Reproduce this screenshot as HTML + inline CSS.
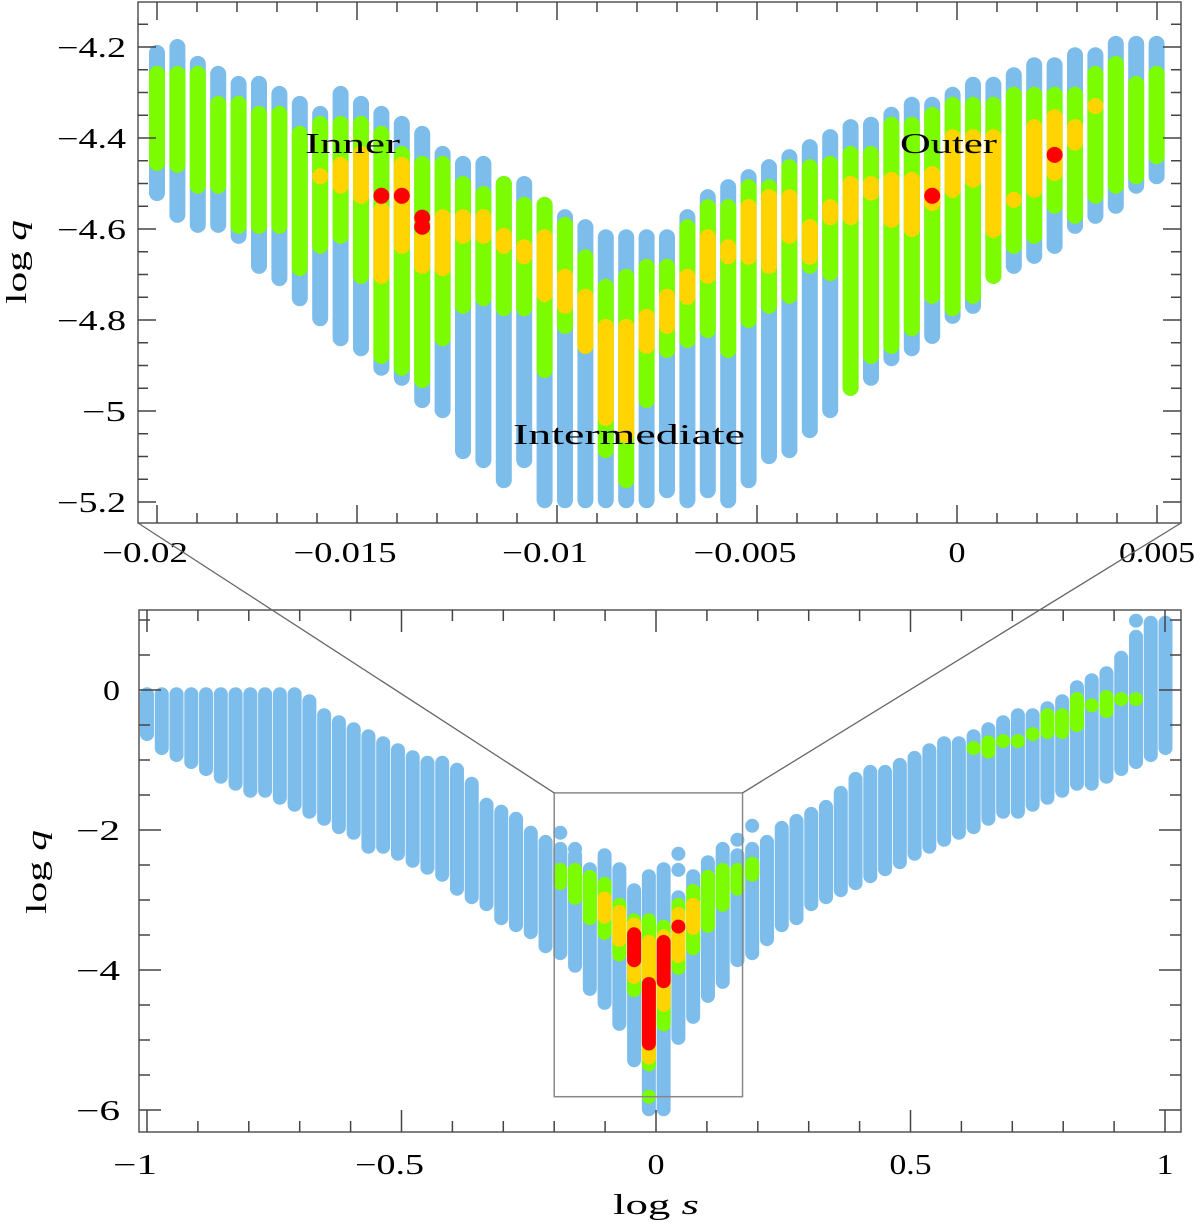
<!DOCTYPE html>
<html><head><meta charset="utf-8">
<style>
html,body{margin:0;padding:0;background:#fff;}
svg{display:block;}
text{font-family:"Liberation Serif",serif;fill:#000;}
</style></head>
<body>
<svg id="chart" width="1200" height="1225" viewBox="0 0 1200 1225" xmlns="http://www.w3.org/2000/svg">
<g id="top-dots"></g>
<g id="bot-dots"></g>
<g id="axes"></g>
<text x="305" y="153" font-size="28" textLength="95" lengthAdjust="spacingAndGlyphs">Inner</text>
<text x="900" y="153" font-size="28" textLength="97" lengthAdjust="spacingAndGlyphs">Outer</text>
<text x="513" y="444" font-size="28" textLength="232" lengthAdjust="spacingAndGlyphs">Intermediate</text>
<text transform="translate(26,262) rotate(-90)" text-anchor="middle" font-size="28" textLength="84" lengthAdjust="spacingAndGlyphs">log <tspan font-style="italic">q</tspan></text>
<text transform="translate(46,872) rotate(-90)" text-anchor="middle" font-size="28" textLength="84" lengthAdjust="spacingAndGlyphs">log <tspan font-style="italic">q</tspan></text>
<text x="656" y="1214" text-anchor="middle" font-size="28" textLength="86" lengthAdjust="spacingAndGlyphs">log <tspan font-style="italic">s</tspan></text>
</svg>
<script>
// ---------- top panel data ----------
const tS = [-0.02,-0.01949,-0.01898,-0.01847,-0.01796,-0.01745,-0.01694,-0.01643,-0.01592,-0.01541,-0.0149,-0.01439,-0.01388,-0.01337,-0.01286,-0.01235,-0.01184,-0.01133,-0.01082,-0.01031,-0.0098,-0.00929,-0.00878,-0.00827,-0.00776,-0.00725,-0.00674,-0.00623,-0.00572,-0.00521,-0.0047,-0.00419,-0.00368,-0.00317,-0.00266,-0.00215,-0.00164,-0.00113,-0.00062,-0.00011,0.0004,0.00091,0.00142,0.00193,0.00244,0.00295,0.00346,0.00397,0.00448,0.00499];
const tBlueTop = [-4.213,-4.200,-4.237,-4.259,-4.281,-4.281,-4.303,-4.325,-4.347,-4.303,-4.325,-4.347,-4.369,-4.391,-4.435,-4.457,-4.457,-4.501,-4.501,-4.547,-4.574,-4.596,-4.618,-4.618,-4.618,-4.618,-4.574,-4.530,-4.508,-4.486,-4.464,-4.442,-4.420,-4.398,-4.376,-4.371,-4.349,-4.327,-4.327,-4.305,-4.283,-4.283,-4.262,-4.240,-4.240,-4.218,-4.218,-4.193,-4.193,-4.193];
const tBlueBot = [-4.521,-4.569,-4.591,-4.591,-4.615,-4.681,-4.708,-4.752,-4.796,-4.840,-4.862,-4.905,-4.927,-4.976,-4.998,-5.088,-5.108,-5.152,-5.108,-5.196,-5.196,-5.196,-5.196,-5.196,-5.196,-5.174,-5.196,-5.174,-5.196,-5.152,-5.099,-5.086,-5.042,-4.998,-4.949,-4.927,-4.884,-4.862,-4.835,-4.791,-4.769,-4.703,-4.681,-4.659,-4.637,-4.593,-4.571,-4.549,-4.505,-4.484];
const tGreenTop = [-4.259,-4.259,-4.259,-4.325,-4.325,-4.347,-4.347,-4.391,-4.369,-4.369,-4.369,-4.391,-4.435,-4.457,-4.457,-4.501,-4.523,-4.501,-4.547,-4.547,-4.591,-4.662,-4.727,-4.705,-4.683,-4.683,-4.596,-4.552,-4.552,-4.508,-4.508,-4.464,-4.464,-4.457,-4.435,-4.435,-4.371,-4.371,-4.349,-4.327,-4.327,-4.327,-4.305,-4.305,-4.305,-4.305,-4.259,-4.237,-4.281,-4.259];
const tGreenBot = [-4.455,-4.459,-4.505,-4.505,-4.593,-4.593,-4.593,-4.686,-4.637,-4.615,-4.703,-4.879,-4.905,-4.932,-4.840,-4.769,-4.752,-4.774,-4.774,-4.910,-4.813,-4.857,-5.086,-5.152,-4.976,-4.866,-4.844,-4.822,-4.866,-4.800,-4.769,-4.747,-4.681,-4.697,-4.949,-4.879,-4.857,-4.818,-4.747,-4.774,-4.747,-4.703,-4.637,-4.615,-4.549,-4.571,-4.527,-4.505,-4.484,-4.440];
const tYelTop = [null,null,null,null,null,null,null,null,-4.484,-4.459,-4.435,-4.558,-4.459,-4.618,-4.574,-4.574,-4.574,-4.615,-4.640,-4.618,-4.705,-4.749,-4.815,-4.815,-4.793,-4.749,-4.705,-4.618,-4.640,-4.552,-4.530,-4.530,-4.596,-4.552,-4.501,-4.501,-4.492,-4.492,-4.479,-4.398,-4.398,-4.398,-4.536,-4.376,-4.354,-4.376,-4.330,null,null,null];
const tYelBot = [null,null,null,null,null,null,null,null,-4.484,-4.505,-4.527,-4.703,-4.637,-4.681,-4.686,-4.615,-4.615,-4.637,-4.660,-4.743,-4.769,-4.857,-5.015,-5.053,-4.857,-4.813,-4.749,-4.703,-4.660,-4.661,-4.681,-4.615,-4.661,-4.574,-4.574,-4.520,-4.580,-4.600,-4.543,-4.514,-4.492,-4.602,-4.536,-4.514,-4.477,-4.410,-4.330,null,null,null];
const tRedS = [-0.01439,-0.01388,-0.01337,-0.01337,-0.00062,0.00244];
const tRedQ = [-4.527,-4.527,-4.575,-4.595,-4.527,-4.437];
const tXTicks = [-0.02,-0.015,-0.01,-0.005,0,0.005];
const tXLabels = ["\u22120.02","\u22120.015","\u22120.01","\u22120.005","0","0.005"];
const tYTicks = [-4.2,-4.4,-4.6,-4.8,-5,-5.2];
const tYLabels = ["\u22124.2","\u22124.4","\u22124.6","\u22124.8","\u22125","\u22125.2"];

// ---------- bottom panel data ----------
const bS = [-1,-0.971,-0.942,-0.913,-0.884,-0.855,-0.826,-0.797,-0.768,-0.739,-0.71,-0.681,-0.652,-0.623,-0.594,-0.565,-0.536,-0.507,-0.478,-0.449,-0.42,-0.391,-0.362,-0.333,-0.304,-0.275,-0.246,-0.217,-0.188,-0.159,-0.13,-0.101,-0.072,-0.043,-0.014,0.015,0.044,0.073,0.102,0.131,0.16,0.189,0.218,0.247,0.276,0.305,0.334,0.363,0.392,0.421,0.45,0.479,0.508,0.537,0.566,0.595,0.624,0.653,0.682,0.711,0.74,0.769,0.798,0.827,0.856,0.885,0.914,0.943,0.972,1.001];
const bBlueTop = [-0.06,-0.06,-0.06,-0.06,-0.06,-0.06,-0.06,-0.06,-0.06,-0.06,-0.06,-0.16,-0.36,-0.46,-0.56,-0.66,-0.76,-0.86,-0.96,-1.04,-1.04,-1.14,-1.34,-1.64,-1.74,-1.84,-2.04,-2.17,-2.27,-2.36,-2.56,-2.36,-2.56,-2.86,-2.66,-2.56,-2.96,-2.66,-2.46,-2.27,-2.36,-2.27,-2.17,-1.97,-1.87,-1.77,-1.67,-1.47,-1.27,-1.17,-1.17,-1.07,-0.97,-0.86,-0.76,-0.76,-0.66,-0.56,-0.46,-0.36,-0.36,-0.26,-0.16,0.04,0.14,0.24,0.46,0.76,0.96,0.96];
const bBlueBot = [-0.63,-0.83,-0.93,-1.03,-1.13,-1.24,-1.34,-1.44,-1.44,-1.54,-1.64,-1.74,-1.84,-1.96,-2.04,-2.24,-2.24,-2.34,-2.44,-2.54,-2.64,-2.84,-2.96,-3.06,-3.26,-3.36,-3.46,-3.66,-3.76,-3.94,-4.27,-4.47,-4.77,-5.29,-5.99,-5.99,-4.97,-4.67,-4.37,-4.17,-3.86,-3.76,-3.56,-3.36,-3.26,-3.06,-2.96,-2.86,-2.76,-2.66,-2.56,-2.46,-2.34,-2.24,-2.14,-2.04,-1.96,-1.84,-1.74,-1.74,-1.64,-1.54,-1.44,-1.34,-1.34,-1.24,-1.13,-1.03,-0.93,-0.83];
const bExtraS = [-0.188,-0.159,0.044,0.044,0.16,0.189,0.943];
const bExtraQ = [-2.04,-2.27,-2.34,-2.57,-2.14,-1.94,0.99];
const bGreenS = [-0.188,-0.159,-0.13,-0.101,-0.072,-0.043,-0.014,-0.014,0.015,0.044,0.073,0.102,0.131,0.16,0.189,0.624,0.653,0.682,0.711,0.74,0.769,0.798,0.827,0.856,0.885,0.914,0.943];
const bGreenTop = [-2.57,-2.57,-2.67,-2.77,-3.07,-3.29,-3.29,-5.81,-3.38,-3.07,-2.87,-2.67,-2.57,-2.57,-2.48,-0.83,-0.75,-0.73,-0.73,-0.63,-0.36,-0.36,-0.13,-0.22,-0.1,-0.13,-0.13];
const bGreenBot = [-2.76,-2.97,-3.26,-3.47,-3.78,-4.29,-5.35,-5.81,-4.78,-3.97,-3.69,-3.37,-3.07,-2.84,-2.64,-0.83,-0.88,-0.73,-0.73,-0.63,-0.6,-0.6,-0.5,-0.22,-0.3,-0.13,-0.13];
const bYelS = [-0.101,-0.072,-0.043,-0.014,0.015,0.044,0.073];
const bYelTop = [-2.98,-3.17,-3.35,-3.6,-3.52,-3.2,-3.07];
const bYelBot = [-3.24,-3.57,-4.1,-5.25,-4.5,-3.8,-3.4];
const bRedS = [-0.043,-0.014,0.015,0.044];
const bRedTop = [-3.49,-4.2,-3.6,-3.38];
const bRedBot = [-3.86,-5.05,-4.16,-3.38];
const bXTicks = [-1,-0.5,0,0.5,1];
const bXLabels = ["\u22121","\u22120.5","0","0.5","1"];
const bYTicks = [0,-2,-4,-6];
const bYLabels = ["0","\u22122","\u22124","\u22126"];

// ---------- geometry ----------
const TOP = {l:138,r:1181,t:2,b:523};
const BOT = {l:139,r:1181,t:610,b:1132};
const xT = s => 157 + (s + 0.02) * 40000;
const yT = q => 47 + (-4.2 - q) * 455;
const xB = s => 656 + s * 509;
const yB = q => 690 - q * 70;
const NS = "http://www.w3.org/2000/svg";
const COL = {blue:"#7dbdeb", green:"#7cfc00", yellow:"#ffd400", red:"#ff0000"};

function mk(tag, attrs, parent){
  const e = document.createElementNS(NS, tag);
  for (const k in attrs) e.setAttribute(k, attrs[k]);
  parent.appendChild(e);
  return e;
}
function capsule(parent, x, y1, y2, d, color, name){
  let e;
  if (Math.abs(y1 - y2) < 0.5) {
    e = mk("circle", {cx:x, cy:y1, r:d/2, fill:color}, parent);
  } else {
    e = mk("line", {x1:x, x2:x, y1:y1, y2:y2, stroke:color, "stroke-width":d, "stroke-linecap":"round"}, parent);
  }
  
  
}

// ---------- top panel marks ----------
const gT = document.getElementById("top-dots");
const DT = 16;
tS.forEach((s,i) => capsule(gT, xT(s), yT(tBlueTop[i]), yT(tBlueBot[i]), DT, COL.blue, "top-blue-column"));
tS.forEach((s,i) => capsule(gT, xT(s), yT(tGreenTop[i]), yT(tGreenBot[i]), DT, COL.green, "top-green-column"));
tS.forEach((s,i) => { if (tYelTop[i] !== null) capsule(gT, xT(s), yT(tYelTop[i]), yT(tYelBot[i]), DT, COL.yellow, "top-yellow-column"); });
tRedS.forEach((s,i) => capsule(gT, xT(s), yT(tRedQ[i]), yT(tRedQ[i]), DT, COL.red, "top-red-point"));

// ---------- bottom panel marks ----------
const gB = document.getElementById("bot-dots");
const DB = 14;
bS.forEach((s,i) => capsule(gB, xB(s), yB(bBlueTop[i]), yB(bBlueBot[i]), DB, COL.blue, "bottom-blue-column"));
bExtraS.forEach((s,i) => capsule(gB, xB(s), yB(bExtraQ[i]), yB(bExtraQ[i]), DB, COL.blue, "bottom-blue-point"));
bGreenS.forEach((s,i) => capsule(gB, xB(s), yB(bGreenTop[i]), yB(bGreenBot[i]), DB, COL.green, "bottom-green-column"));
bYelS.forEach((s,i) => capsule(gB, xB(s), yB(bYelTop[i]), yB(bYelBot[i]), DB, COL.yellow, "bottom-yellow-column"));
bRedS.forEach((s,i) => capsule(gB, xB(s), yB(bRedTop[i]), yB(bRedBot[i]), DB, COL.red, "bottom-red-column"));

// ---------- axes ----------
const gA = document.getElementById("axes");
function frame(P, name){
  const r = mk("rect", {x:P.l, y:P.t, width:P.r-P.l, height:P.b-P.t, fill:"none", stroke:"#555", "stroke-width":1.5}, gA);
  
  
}
function tick(x1,y1,x2,y2){
  const t = mk("line", {x1:x1,y1:y1,x2:x2,y2:y2, stroke:"#444", "stroke-width":1.5}, gA);
  
  
}
function labelWidth(str){
  let w = 0;
  for (const c of str) w += (c === "\u2212") ? 27 : (c === ".") ? 8 : 17;
  return w;
}
function label(x,y,str,anchor,name){
  const t = mk("text", {x:x, y:y, "text-anchor":anchor, "font-size":28, textLength:labelWidth(str), lengthAdjust:"spacingAndGlyphs"}, gA);
  t.textContent = str;
  
  
}
frame(TOP, "top-plot-frame");
frame(BOT, "bottom-plot-frame");
// top x ticks
for (let v = -0.02; v <= 0.00501; v += 0.001) {
  const x = xT(v), maj = Math.abs(Math.round(v*200) - v*200) < 1e-6;
  const L = maj ? 18 : 10;
  tick(x, TOP.b, x, TOP.b - L); tick(x, TOP.t, x, TOP.t + L);
}
tXTicks.forEach((v,i) => label(xT(v) - (v < 0 ? 12 : 0), 562, tXLabels[i], "middle", "top-x-tick-label"));
// top y ticks
for (let v = -4.15; v >= -5.251; v -= 0.05) {
  const y = yT(v); if (y < TOP.t || y > TOP.b) continue;
  const maj = Math.abs(Math.round(v*5) - v*5) < 1e-6;
  const L = maj ? 18 : 10;
  tick(TOP.l, y, TOP.l + L, y); tick(TOP.r, y, TOP.r - L, y);
}
tYTicks.forEach((v,i) => label(126, yT(v) + 10, tYLabels[i], "end", "top-y-tick-label"));
// bottom x ticks
for (let v = -1; v <= 1.001; v += 0.1) {
  const x = xB(v), maj = Math.abs(Math.round(v*2) - v*2) < 1e-6;
  const L = maj ? 22 : 11;
  tick(x, BOT.b, x, BOT.b - L); tick(x, BOT.t, x, BOT.t + L);
}
bXTicks.forEach((v,i) => label(xB(v) - (v < 0 ? 12 : 0), 1174, bXLabels[i], "middle", "bottom-x-tick-label"));
// bottom y ticks
for (let v = 1; v >= -6.2; v -= 0.5) {
  const y = yB(v); if (y < BOT.t || y > BOT.b) continue;
  const maj = Math.abs(Math.round(v/2) - v/2) < 1e-6;
  const L = maj ? 22 : 11;
  tick(BOT.l, y, BOT.l + L, y); tick(BOT.r, y, BOT.r - L, y);
}
bYTicks.forEach((v,i) => label(120, yB(v) + 10, bYLabels[i], "end", "bottom-y-tick-label"));

// zoom box and connector lines
const zS0 = -0.2, zS1 = 0.17, zQ0 = -1.47, zQ1 = -5.81;
const zb = mk("rect", {x:xB(zS0), y:yB(zQ0), width:xB(zS1)-xB(zS0), height:yB(zQ1)-yB(zQ0), fill:"none", stroke:"#888", "stroke-width":1.5}, gA);


const c1 = mk("line", {x1:xB(zS0), y1:yB(zQ0), x2:TOP.l, y2:TOP.b, stroke:"#666", "stroke-width":1.3}, gA);


const c2 = mk("line", {x1:xB(zS1), y1:yB(zQ0), x2:TOP.r, y2:TOP.b, stroke:"#666", "stroke-width":1.3}, gA);


</script>
</body></html>
